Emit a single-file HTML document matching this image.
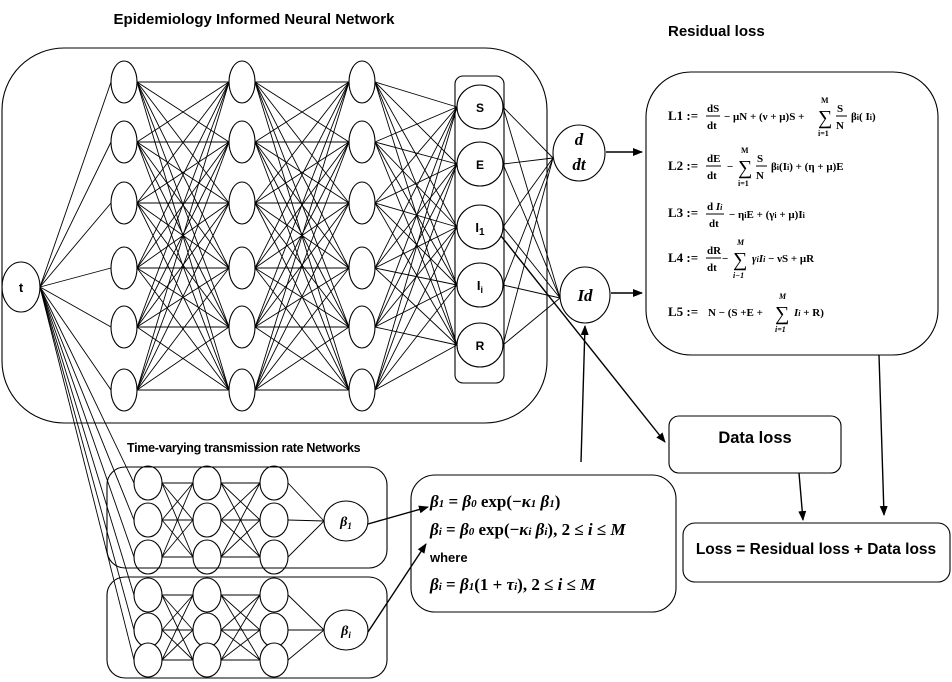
<!DOCTYPE html>
<html><head><meta charset="utf-8"><style>
html,body{margin:0;padding:0;background:#fff;}
svg{display:block;font-family:"Liberation Sans",sans-serif;}
.b{font-weight:bold;}
.m{font-family:"Liberation Serif",serif;font-weight:bold;}
</style></head><body>
<svg id="s" width="952" height="682" viewBox="0 0 952 682" xmlns="http://www.w3.org/2000/svg">
<defs><marker id="a" markerWidth="10" markerHeight="8" refX="9" refY="4" orient="auto" markerUnits="userSpaceOnUse"><path d="M0,0 L10,4 L0,8 z" fill="#000"/></marker></defs>
<g id="L" stroke="#000" stroke-width="0.9" fill="none"></g>
<g fill="#fff" stroke="#000" stroke-width="1.1" id="N"></g>
<g fill="none" stroke="#000" stroke-width="1.1">
<rect x="2" y="48" width="545" height="375" rx="62"/>
<rect x="455" y="76" width="49" height="307" rx="8"/>
<rect x="646" y="72" width="292" height="283" rx="45"/>
<rect x="669" y="416" width="172" height="57" rx="10"/>
<rect x="683" y="523" width="267" height="59" rx="12"/>
<rect x="107" y="467" width="280" height="101" rx="18"/>
<rect x="107" y="577" width="280" height="101" rx="18"/>
<rect x="411" y="475" width="265" height="137" rx="24"/>
</g>
<g stroke="#000" stroke-width="1.4" fill="none">
<line x1="606" y1="152" x2="642" y2="152" marker-end="url(#a)"/>
<line x1="611" y1="293" x2="642" y2="293" marker-end="url(#a)"/>
<line x1="501" y1="236" x2="665" y2="442" marker-end="url(#a)"/>
<line x1="581" y1="462" x2="585" y2="326" marker-end="url(#a)"/>
<line x1="799" y1="473" x2="803" y2="520" marker-end="url(#a)"/>
<line x1="879" y1="355" x2="884" y2="515" marker-end="url(#a)"/>
<line x1="368" y1="524" x2="428" y2="507" marker-end="url(#a)"/>
<line x1="368" y1="632" x2="426" y2="544" marker-end="url(#a)"/>
</g>
<g id="T"></g>
<text x="254" y="24" class="b" font-size="15" text-anchor="middle">Epidemiology Informed Neural Network</text>
<text x="668" y="36" class="b" font-size="15">Residual loss</text>
<text x="755" y="443" class="b" font-size="16.5" text-anchor="middle">Data loss</text>
<text x="816" y="554" class="b" font-size="15.5" text-anchor="middle">Loss = Residual loss + Data loss</text>
<text x="127" y="452" class="b" font-size="12.5" letter-spacing="-0.3">Time-varying transmission rate  Networks</text>
<g font-size="13" class="m">
<text x="668" y="120">L1 :=</text><text x="668" y="170">L2 :=</text><text x="668" y="217">L3 :=</text><text x="668" y="262">L4 :=</text><text x="668" y="316">L5 :=</text>
<text x="707" y="112" font-size="11">dS</text><line x1="706" y1="116" x2="720" y2="116" stroke="#000"/><text x="707" y="129" font-size="11">dt</text>
<text x="724" y="120" font-size="11">− μN + (ν + μ)S +</text><text x="818" y="124" font-size="20" font-weight="normal">∑</text><text x="821" y="103" font-size="8">M</text><text x="818" y="136" font-size="8">i=1</text>
<text x="837" y="112" font-size="11">S</text><line x1="836" y1="116" x2="847" y2="116" stroke="#000"/><text x="836" y="129" font-size="11">N</text><text x="851" y="120" font-size="11">β<tspan font-size="8">i</tspan>( I<tspan font-size="8">i</tspan>)</text>
<text x="707" y="162" font-size="11">dE</text><line x1="706" y1="166" x2="721" y2="166" stroke="#000"/><text x="707" y="179" font-size="11">dt</text>
<text x="727" y="170" font-size="11">−</text><text x="738" y="174" font-size="20" font-weight="normal">∑</text><text x="741" y="153" font-size="8">M</text><text x="738" y="186" font-size="8">i=1</text>
<text x="757" y="162" font-size="11">S</text><line x1="756" y1="166" x2="767" y2="166" stroke="#000"/><text x="756" y="179" font-size="11">N</text><text x="771" y="170" font-size="11">β<tspan font-size="8">i</tspan>(I<tspan font-size="8">i</tspan>) + (η + μ)E</text>
<text x="707" y="210" font-size="11">d <tspan font-style="italic">I<tspan font-size="8">i</tspan></tspan></text><line x1="706" y1="214" x2="724" y2="214" stroke="#000"/><text x="709" y="227" font-size="11">dt</text>
<text x="729" y="218" font-size="11">− η<tspan font-size="8">i</tspan>E + (γ<tspan font-size="8">i</tspan> + μ)I<tspan font-size="8">i</tspan></text>
<text x="707" y="254" font-size="11">dR</text><line x1="706" y1="258" x2="721" y2="258" stroke="#000"/><text x="707" y="271" font-size="11">dt</text>
<text x="722" y="262" font-size="11">−</text><text x="733" y="266" font-size="20" font-weight="normal">∑</text><text x="737" y="245" font-size="8" font-style="italic">M</text><text x="733" y="278" font-size="8" font-style="italic">i−1</text>
<text x="752" y="262" font-size="11"><tspan font-style="italic">γ<tspan font-size="8">i</tspan>I<tspan font-size="8">i</tspan></tspan> − νS + μR</text>
<text x="708" y="316" font-size="11">N − (S +E +</text><text x="775" y="320" font-size="20" font-weight="normal">∑</text><text x="779" y="299" font-size="8" font-style="italic">M</text><text x="775" y="332" font-size="8" font-style="italic">i=1</text>
<text x="794" y="316" font-size="11"><tspan font-style="italic">I<tspan font-size="8">i</tspan></tspan> + R)</text>
</g>
<g class="m" font-size="17">
<text x="430" y="507"><tspan font-style="italic">β<tspan font-size="11">1</tspan></tspan> =  <tspan font-style="italic">β<tspan font-size="11">0</tspan></tspan> exp(−<tspan font-style="italic">κ<tspan font-size="11">1</tspan> β<tspan font-size="11">1</tspan></tspan>)</text>
<text x="430" y="535"><tspan font-style="italic">β<tspan font-size="11">i</tspan></tspan> =  <tspan font-style="italic">β<tspan font-size="11">0</tspan></tspan> exp(−<tspan font-style="italic">κ<tspan font-size="11">i</tspan> β<tspan font-size="11">i</tspan></tspan>),  2 ≤ <tspan font-style="italic">i</tspan>  ≤ <tspan font-style="italic">M</tspan></text>
<text x="430" y="562" font-family="Liberation Sans" font-size="13">where</text>
<text x="430" y="590"><tspan font-style="italic">β<tspan font-size="11">i</tspan></tspan> =  <tspan font-style="italic">β<tspan font-size="11">1</tspan></tspan>(1 + <tspan font-style="italic">τ<tspan font-size="11">i</tspan></tspan>),  2 ≤ <tspan font-style="italic">i</tspan>  ≤ <tspan font-style="italic">M</tspan></text>
</g>
</svg>
<script>
var NS="http://www.w3.org/2000/svg",L=document.getElementById("L"),N=document.getElementById("N"),T=document.getElementById("T");
function ln(a,b,c,d){var e=document.createElementNS(NS,"line");e.setAttribute("x1",a);e.setAttribute("y1",b);e.setAttribute("x2",c);e.setAttribute("y2",d);L.appendChild(e);}
function el(x,y,rx,ry){var e=document.createElementNS(NS,"ellipse");e.setAttribute("cx",x);e.setAttribute("cy",y);e.setAttribute("rx",rx);e.setAttribute("ry",ry);N.appendChild(e);}
function tx(x,y,s,fs,it){var e=document.createElementNS(NS,"text");e.setAttribute("x",x);e.setAttribute("y",y);e.setAttribute("text-anchor","middle");e.setAttribute("font-size",fs||13);e.setAttribute("font-weight","bold");e.setAttribute("font-family",it?"Liberation Serif":"Liberation Sans");if(it)e.setAttribute("font-style","italic");e.innerHTML=s;T.appendChild(e);}
var ys=[82,142,203,268,327,390],xs=[124,242,362],rx=13,ry=21;
for(var i=0;i<6;i++)ln(40,287,xs[0]-rx,ys[i]);
for(var k=0;k<2;k++)for(var i=0;i<6;i++)for(var j=0;j<6;j++)ln(xs[k]+rx,ys[i],xs[k+1]-rx,ys[j]);
var oy=[107,164,227,285,345],ox=480;
for(var i=0;i<6;i++)for(var j=0;j<5;j++)ln(xs[2]+rx,ys[i],ox-23,oy[j]);
for(var j=0;j<5;j++){ln(ox+23,oy[j],553,158);ln(ox+23,oy[j],560,298);}
for(var i=0;i<6;i++)el(xs[0],ys[i],rx,ry),el(xs[1],ys[i],rx,ry),el(xs[2],ys[i],rx,ry);
el(21,287,19,25);
for(var j=0;j<5;j++)el(ox,oy[j],23,22);
el(579,153,26,28);el(585,295,25,28);
var bx=[148,207,274];
[[483,520,557,521],[595,630,660,630]].forEach(function(g){
 var yy=g.slice(0,3);
 for(var i=0;i<3;i++)ln(40,287,bx[0]-14,yy[i]);
 for(var k=0;k<2;k++)for(var i=0;i<3;i++)for(var j=0;j<3;j++)ln(bx[k]+14,yy[i],bx[k+1]-14,yy[j]);
 for(var i=0;i<3;i++)ln(bx[2]+14,yy[i],324,g[3]);
 for(var k=0;k<3;k++)for(var i=0;i<3;i++)el(bx[k],yy[i],14,17);
 el(346,g[3],22,20);
});
tx(21,292,"t",13);
tx(ox,112,"S",12);tx(ox,169,"E",12);tx(ox,232,'I<tspan font-size="10" dy="3">1</tspan>',13);tx(ox,290,'I<tspan font-size="9" dy="3">i</tspan>',13);tx(ox,350,"R",12);
tx(579,145,"d",17,1);tx(579,170,"dt",17,1);ln(566,152,592,152);
tx(585,301,"Id",17,1);
tx(346,526,'β<tspan font-size="9" dy="3">1</tspan>',14,1);tx(346,635,'β<tspan font-size="9" dy="3">i</tspan>',14,1);
</script>
</body></html>
